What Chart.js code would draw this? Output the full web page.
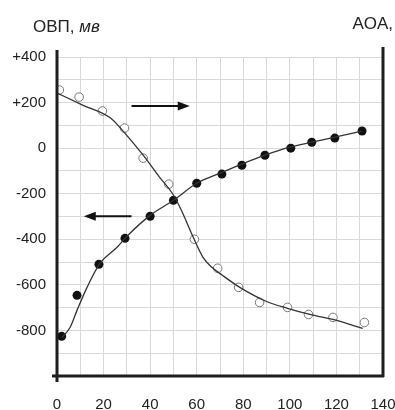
<!DOCTYPE html>
<html>
<head>
<meta charset="utf-8">
<script src="https://cdn.jsdelivr.net/npm/chart.js@4/dist/chart.umd.min.js"></script>
<style>
html,body{margin:0;padding:0;background:#fff;overflow:hidden;}
#wrap{width:395px;height:410px;position:relative;}
</style>
</head>
<body>
<div id="wrap"><canvas id="c" width="395" height="410"></canvas></div>
<script>
// ОВП (redox potential, mV) measured points
const orpX = [1, 9.5, 19.5, 29, 37, 48, 59, 69, 78, 87, 99, 108, 118.5, 132];
const orpY = [255, 224, 163, 88, -44, -158, -400, -527, -611, -677, -699, -730, -743, -765];
// ОВП fitted curve
const orpFitX = [0, 11, 23, 28, 37, 44, 49.5, 53, 58.5, 62.7, 66.5, 71, 78.5, 90, 99, 108.6, 118.5, 131.3];
const orpFitY = [242, 189, 132, 79, -31, -127, -198, -264, -391, -479, -523, -558, -611, -673, -703, -730, -752, -791];
// AOA measured points (plotted against left scale positions)
const aoaX = [2, 8.6, 18, 29.2, 40, 50, 60, 70.8, 79.4, 89.3, 100.4, 109.4, 119.3, 131];
const aoaY = [-826, -646, -510, -396, -299, -229, -154, -114, -75, -31, 0, 26, 44, 75];
// AOA fitted curve
const aoaFitX = [2.1, 5.6, 8.6, 12.9, 18.5, 25.8, 30.5, 40, 50, 60, 70, 79.4, 89.3, 100, 109.4, 119.3, 131];
const aoaFitY = [-831, -787, -712, -611, -505, -435, -382, -295, -229, -154, -110, -70, -31, 4, 26, 48, 75];
// tick labels
const xTickLabels = ['0', '20', '40', '60', '80', '100', '120', '140'];
const yTickLabels = ['+400', '+200', '0', '-200', '-400', '-600', '-800'];
const yTickValues = [400, 200, 0, -200, -400, -600, -800];
// arrows (x from, x to, y)
const arrowRight = [32, 57, 185];
const arrowLeft = [32, 11.5, -299];
// titles
const leftTitle = 'ОВП, ';
const leftTitleUnit = 'мв';
const rightTitle = 'AOA,';

const pts = (xs, ys) => xs.map((x, i) => ({x: x, y: ys[i]}));

const FONT = '"Liberation Sans", Arial, sans-serif';

const decor = {
  id: 'decor',
  afterDraw(chart) {
    const ctx = chart.ctx;
    const a = chart.chartArea;
    const xs = chart.scales.x, ys = chart.scales.y;
    ctx.save();
    // axes lines
    ctx.strokeStyle = '#1e1e1e';
    ctx.lineWidth = 3;
    ctx.beginPath();
    ctx.moveTo(a.left, a.top - 7); ctx.lineTo(a.left, a.bottom + 6);
    ctx.moveTo(a.left - 5, a.bottom); ctx.lineTo(a.right + 1, a.bottom);
    ctx.moveTo(a.right, a.top - 10); ctx.lineTo(a.right, a.bottom + 1);
    ctx.stroke();
    // arrows
    const drawArrow = (arr) => {
      const x1 = xs.getPixelForValue(arr[0]);
      const x2 = xs.getPixelForValue(arr[1]);
      const y = ys.getPixelForValue(arr[2]);
      const dir = Math.sign(x2 - x1);
      ctx.strokeStyle = '#111';
      ctx.fillStyle = '#111';
      ctx.lineWidth = 1.8;
      ctx.beginPath();
      ctx.moveTo(x1, y); ctx.lineTo(x2 - dir * 8, y);
      ctx.stroke();
      ctx.beginPath();
      ctx.moveTo(x2, y);
      ctx.lineTo(x2 - dir * 12, y - 4.5);
      ctx.lineTo(x2 - dir * 12, y + 4.5);
      ctx.closePath();
      ctx.fill();
    };
    drawArrow(arrowRight);
    drawArrow(arrowLeft);
    // titles
    ctx.fillStyle = '#222';
    ctx.textBaseline = 'alphabetic';
    ctx.textAlign = 'left';
    ctx.font = '17px ' + FONT;
    ctx.fillText(leftTitle, 33, 32);
    const w = ctx.measureText(leftTitle).width;
    ctx.font = 'italic 17px ' + FONT;
    ctx.fillText(leftTitleUnit, 33 + w, 32);
    ctx.font = '17px ' + FONT;
    ctx.textAlign = 'right';
    ctx.fillText(rightTitle, 393, 29);
    ctx.restore();
  }
};

new Chart(document.getElementById('c'), {
  type: 'scatter',
  data: {
    datasets: [
      {
        type: 'line',
        data: pts(orpFitX, orpFitY),
        borderColor: '#333',
        borderWidth: 1.3,
        pointRadius: 0,
        cubicInterpolationMode: 'monotone',
        fill: false
      },
      {
        type: 'line',
        data: pts(aoaFitX, aoaFitY),
        borderColor: '#333',
        borderWidth: 1.3,
        pointRadius: 0,
        cubicInterpolationMode: 'monotone',
        fill: false
      },
      {
        data: pts(orpX, orpY),
        pointRadius: 4.3,
        pointBackgroundColor: '#fff',
        pointBorderColor: '#777',
        pointBorderWidth: 1,
        showLine: false
      },
      {
        data: pts(aoaX, aoaY),
        pointRadius: 4.5,
        pointBackgroundColor: '#111',
        pointBorderColor: '#111',
        pointBorderWidth: 0,
        showLine: false
      }
    ]
  },
  options: {
    responsive: false,
    animation: false,
    layout: {padding: {top: 57, right: 12, left: 0, bottom: 0}},
    plugins: {legend: {display: false}, tooltip: {enabled: false}},
    scales: {
      x: {
        type: 'linear',
        min: 0, max: 140,
        afterFit(s) { s.height = 34; s.paddingLeft = 0; s.paddingRight = 0; },
        border: {display: false},
        grid: {color: '#d8d8d8', lineWidth: 1, drawTicks: false},
        ticks: {
          stepSize: 10,
          autoSkip: false,
          maxRotation: 0,
          padding: 20,
          color: '#222',
          font: {family: FONT, size: 15},
          callback: (v) => {
            const i = xTickLabels.indexOf(String(v));
            return i >= 0 ? xTickLabels[i] : '';
          }
        }
      },
      y: {
        min: -1000, max: 400,
        afterFit(s) { s.width = 57; s.paddingTop = 0; s.paddingBottom = 0; },
        border: {display: false},
        grid: {color: '#d8d8d8', lineWidth: 1, drawTicks: false},
        ticks: {
          stepSize: 100,
          autoSkip: false,
          padding: 11,
          color: '#222',
          font: {family: FONT, size: 15},
          callback: (v) => {
            const i = yTickValues.indexOf(v);
            return i >= 0 ? yTickLabels[i] : '';
          }
        }
      }
    }
  },
  plugins: [decor]
});
</script>
</body>
</html>
